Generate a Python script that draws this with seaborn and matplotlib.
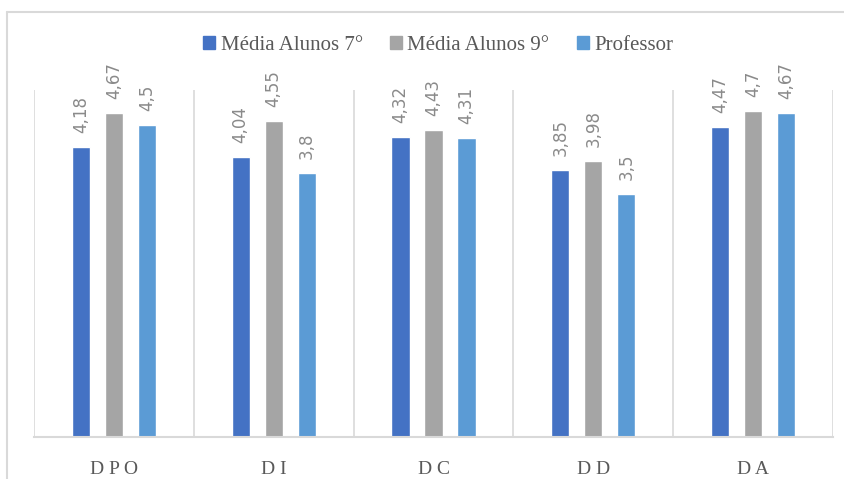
import matplotlib
matplotlib.use("Agg")
import matplotlib.pyplot as plt
from matplotlib.lines import Line2D
import seaborn as sns
import pandas as pd

# Chart data
categories = ["DPO", "DI", "DC", "DD", "DA"]
tick_labels = ["D P O", "D I", "D C", "D D", "D A"]
series_names = ["Média Alunos 7°", "Média Alunos 9°", "Professor"]
alunos_7 = [4.18, 4.04, 4.32, 3.85, 4.47]
alunos_9 = [4.67, 4.55, 4.43, 3.98, 4.70]
professor = [4.50, 3.80, 4.31, 3.50, 4.67]
colors = ["#4472C4", "#A5A5A5", "#5B9BD5"]

df = pd.DataFrame({
    "cat": categories * 3,
    "serie": [s for s in series_names for _ in categories],
    "valor": alunos_7 + alunos_9 + professor,
})

sns.set_theme(style="white")
plt.rcParams["font.family"] = ["DejaVu Sans"]

W, H = 844, 479
fig = plt.figure(figsize=(W / 100, H / 100), dpi=100)
ax = fig.add_axes([34 / W, 1 - 437 / H, (833 - 34) / W, (437 - 90) / H])

sns.barplot(data=df, x="cat", y="valor", hue="serie", order=categories,
            hue_order=series_names, palette=colors, width=0.62, gap=0.45,
            saturation=1, ax=ax, legend=False)

# value labels, vertical, comma decimals
for cont in ax.containers:
    labels = [f"{b.get_height():g}".replace(".", ",") for b in cont]
    ax.bar_label(cont, labels=labels, rotation=90, padding=10,
                 fontsize=12, color="#8A8A8A")

ax.set_xlim(-0.5, 4.5)
ax.set_ylim(0, 5)
ax.set_yticks([])
ax.set_xlabel("")
ax.set_ylabel("")
for x in [-0.5, 0.5, 1.5, 2.5, 3.5, 4.5]:
    ax.axvline(x, color="#D9D9D9", lw=1.2, zorder=0)
for s in ["top", "left", "right"]:
    ax.spines[s].set_visible(False)
ax.spines["bottom"].set_color("#D9D9D9")
ax.spines["bottom"].set_linewidth(1.5)

ax.set_xticks(range(len(categories)))
ax.set_xticklabels(tick_labels, family="Liberation Serif", fontsize=14, color="#595959")
ax.tick_params(axis="x", length=0, pad=17)

handles = [plt.Rectangle((0, 0), 1, 1, color=c) for c in colors]
fig.legend(handles, series_names, loc="center", bbox_to_anchor=(0.519, 1 - 45 / H),
           ncol=3, frameon=False, prop={"family": "Liberation Serif", "size": 15},
           labelcolor="#595959", handlelength=0.6, handleheight=0.6,
           handletextpad=0.25, columnspacing=1.3)

# outer chart border (top and left visible)
fig.add_artist(Line2D([7 / W, 1.0], [1 - 12 / H, 1 - 12 / H], color="#D9D9D9", lw=1.5))
fig.add_artist(Line2D([7 / W, 7 / W], [0, 1 - 12 / H], color="#D9D9D9", lw=1.5))

fig.savefig("out.png", dpi=100)
